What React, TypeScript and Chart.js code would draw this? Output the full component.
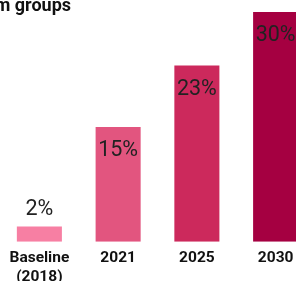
import React, { useEffect, useRef } from "react";
import { Chart, registerables } from "chart.js";

Chart.register(...registerables);

const categories: (string | string[])[] = [["Baseline", "(2018)"], "2021", "2025", "2030"];
const values: number[] = [2, 15, 23, 30];
const valueLabels: string[] = ["2%", "15%", "23%", "30%"];
const barColors: string[] = ["#F77FA3", "#E2557F", "#CC295C", "#A50041"];
const titleText = "from groups";

const FONT = "Roboto, 'Liberation Sans', sans-serif";

const labelPlugin = {
  id: "valueLabels",
  afterDatasetsDraw(chart: any) {
    const { ctx } = chart;
    const meta = chart.getDatasetMeta(0);
    ctx.save();
    ctx.font = `400 21.5px ${FONT}`;
    ctx.fillStyle = "#222222";
    ctx.textAlign = "center";
    ctx.textBaseline = "middle";
    meta.data.forEach((bar: any, i: number) => {
      const h = bar.base - bar.y;
      const y = h > 40 ? bar.y + 24 : bar.y - 17;
      ctx.fillText(valueLabels[i], bar.x, y);
    });
    ctx.restore();
  },
};

const titlePlugin = {
  id: "cutTitle",
  afterDraw(chart: any) {
    const { ctx } = chart;
    ctx.save();
    ctx.font = `700 18px ${FONT}`;
    ctx.fillStyle = "#111111";
    ctx.textAlign = "right";
    ctx.textBaseline = "alphabetic";
    ctx.fillText(titleText, 71, 11);
    ctx.restore();
  },
};

export default function App() {
  const ref = useRef<HTMLCanvasElement | null>(null);
  useEffect(() => {
    if (!ref.current) return;
    const chart = new Chart(ref.current, {
      type: "bar",
      data: {
        labels: categories,
        datasets: [
          {
            data: values,
            backgroundColor: barColors,
            borderWidth: 0,
            categoryPercentage: 1,
            barPercentage: 0.572,
          },
        ],
      },
      options: {
        animation: false,
        responsive: true,
        maintainAspectRatio: false,
        layout: { padding: { top: 12, left: 0, right: 0, bottom: 7 } },
        plugins: {
          legend: { display: false },
          tooltip: { enabled: false },
          title: { display: false },
        },
        scales: {
          x: {
            grid: { display: false, drawTicks: false },
            border: { display: false },
            ticks: {
              padding: 7,
              color: "#111111",
              font: { family: FONT, size: 15.5, weight: "bold", lineHeight: 1.2 },
              maxRotation: 0,
              autoSkip: false,
              crossAlign: "near",
            },
          },
          y: {
            display: false,
            min: 0,
            max: 30,
          },
        },
      },
      plugins: [labelPlugin, titlePlugin],
    });
    return () => chart.destroy();
  }, []);
  return (
    <div style={{ position: "fixed", left: 0, top: 0, width: 315, height: 300, background: "#fff" }}>
      <canvas ref={ref} />
    </div>
  );
}
